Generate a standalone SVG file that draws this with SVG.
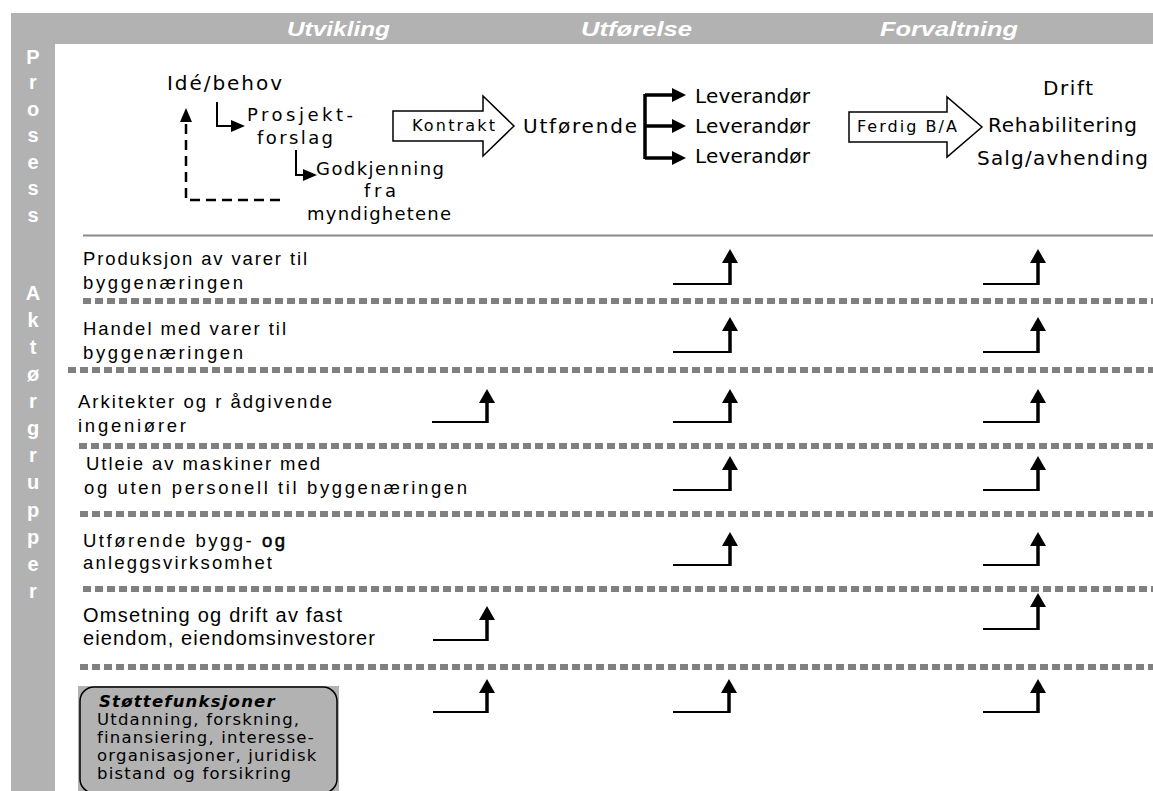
<svg xmlns="http://www.w3.org/2000/svg" width="1153" height="791" viewBox="0 0 1153 791">
<style>
.band{fill:#b2b2b2}
.hdr{font-family:"Liberation Sans",Arial,sans-serif;font-weight:bold;font-style:italic;font-size:21px;fill:#fff}
.side{font-family:"Liberation Sans",Arial,sans-serif;font-weight:bold;font-size:20px;fill:#fff;text-anchor:middle}
.proc{font-family:"DejaVu Sans",Verdana,sans-serif;font-size:20px;fill:#000}
.proc2{font-family:"DejaVu Sans",Verdana,sans-serif;font-size:18px;fill:#000}
.small{font-family:"DejaVu Sans",Verdana,sans-serif;font-size:16px;fill:#000}
.row{font-family:"Liberation Sans",Arial,sans-serif;font-size:18.5px;fill:#000}
.row2{font-family:"Liberation Sans",Arial,sans-serif;font-size:20px;fill:#000}
.box{font-family:"DejaVu Sans",Verdana,sans-serif;font-size:16.5px;fill:#000;letter-spacing:1.2px}
.dots{stroke:#808080;stroke-width:6;stroke-dasharray:8 4;fill:none}
.thin{stroke:#000;stroke-width:2;fill:none}
.thick{stroke:#000;stroke-width:3.5;fill:none}
.block{fill:#fff;stroke:#000;stroke-width:1.5}
.head{fill:#000}
</style>
<rect width="1153" height="791" fill="#fff"/>
<g id="frame">
<rect class="band" x="11" y="13" width="1142" height="31"/>
<rect class="band" x="11" y="13" width="44" height="778"/>
<text class="hdr" x="287" y="36" textLength="103" lengthAdjust="spacingAndGlyphs">Utvikling</text>
<text class="hdr" x="581" y="36" textLength="111" lengthAdjust="spacingAndGlyphs">Utførelse</text>
<text class="hdr" x="880" y="36" textLength="138" lengthAdjust="spacingAndGlyphs">Forvaltning</text>
<text class="side" x="33" y="64">P</text>
<text class="side" x="33" y="89">r</text>
<text class="side" x="33" y="116">o</text>
<text class="side" x="33" y="142">s</text>
<text class="side" x="33" y="169">e</text>
<text class="side" x="33" y="195">s</text>
<text class="side" x="33" y="222">s</text>
<text class="side" x="33" y="300">A</text>
<text class="side" x="33" y="327">k</text>
<text class="side" x="33" y="354">t</text>
<text class="side" x="33" y="381">ø</text>
<text class="side" x="33" y="408">r</text>
<text class="side" x="33" y="435">g</text>
<text class="side" x="33" y="462">r</text>
<text class="side" x="33" y="489">u</text>
<text class="side" x="33" y="517">p</text>
<text class="side" x="33" y="544">p</text>
<text class="side" x="33" y="571">e</text>
<text class="side" x="33" y="598">r</text>
</g>
<g id="separators">
<line x1="83" y1="235.5" x2="1153" y2="235.5" stroke="#8a8a8a" stroke-width="2"/>
<line class="dots" x1="83" y1="301" x2="1153" y2="301"/>
<line class="dots" x1="68" y1="370" x2="1153" y2="370"/>
<line class="dots" x1="79" y1="446" x2="1153" y2="446"/>
<line class="dots" x1="80" y1="514" x2="1153" y2="514"/>
<line class="dots" x1="83" y1="589" x2="1153" y2="589"/>
<line class="dots" x1="80" y1="667" x2="1153" y2="667"/>
</g>
<g id="n-idebehov"><text class="proc" x="167" y="90" textLength="115" lengthAdjust="spacing">Idé/behov</text></g>
<g id="n-prosjekt"><text class="proc2" x="247" y="121" textLength="106" lengthAdjust="spacing">Prosjekt-</text><text class="proc2" x="257" y="144" textLength="76" lengthAdjust="spacing">forslag</text></g>
<g id="n-godkjenning"><text class="proc2" x="316" y="175" textLength="128" lengthAdjust="spacing">Godkjenning</text><text class="proc2" x="364" y="197" textLength="32" lengthAdjust="spacing">fra</text><text class="proc2" x="307" y="220" textLength="144" lengthAdjust="spacing">myndighetene</text></g>
<g id="n-kontrakt"><polygon class="block" points="393,111 483,111 483,96 514,126 483,156 483,141 393,141"/><text class="small" x="412" y="131" textLength="83" lengthAdjust="spacing">Kontrakt</text></g>
<g id="n-utforende"><text class="proc" x="523" y="133" textLength="114" lengthAdjust="spacing">Utførende</text></g>
<g id="n-leverandor"><text class="proc" x="695" y="103" textLength="115" lengthAdjust="spacing">Leverandør</text><text class="proc" x="695" y="133" textLength="115" lengthAdjust="spacing">Leverandør</text><text class="proc" x="695" y="163" textLength="115" lengthAdjust="spacing">Leverandør</text></g>
<g id="n-ferdig"><polygon class="block" points="849,112 947,112 947,97 982,127 947,157 947,142 849,142"/><text class="small" x="857" y="132" textLength="100" lengthAdjust="spacing">Ferdig B/A</text></g>
<g id="n-forvaltning"><text class="proc" x="1043" y="95" textLength="50" lengthAdjust="spacing">Drift</text><text class="proc" x="988" y="132" textLength="149" lengthAdjust="spacing">Rehabilitering</text><text class="proc" x="977" y="165" textLength="171" lengthAdjust="spacing">Salg/avhending</text></g>
<g id="r-produksjon"><text class="row" x="83" y="265" textLength="224" lengthAdjust="spacing">Produksjon av varer til</text><text class="row" x="83" y="289" textLength="160" lengthAdjust="spacing">byggenæringen</text></g>
<g id="r-handel"><text class="row" x="83" y="335" textLength="203" lengthAdjust="spacing">Handel med varer til</text><text class="row" x="83" y="359" textLength="160" lengthAdjust="spacing">byggenæringen</text></g>
<g id="r-arkitekter"><text class="row" x="78" y="408" textLength="254" lengthAdjust="spacing">Arkitekter og r ådgivende</text><text class="row" x="78" y="432" textLength="108" lengthAdjust="spacing">ingeniører</text></g>
<g id="r-utleie"><text class="row" x="86" y="470" textLength="234" lengthAdjust="spacing">Utleie av maskiner med</text><text class="row" x="84" y="494" textLength="383" lengthAdjust="spacing">og uten personell til byggenæringen</text></g>
<g id="r-utforende"><text class="row" x="83" y="547" textLength="202" lengthAdjust="spacing">Utførende bygg- <tspan stroke="#000" stroke-width="0.5">og</tspan></text><text class="row" x="83" y="569" textLength="189" lengthAdjust="spacing">anleggsvirksomhet</text></g>
<g id="r-omsetning"><text class="row2" x="83" y="622" textLength="259" lengthAdjust="spacing">Omsetning og drift av fast</text><text class="row2" x="83" y="645" textLength="292" lengthAdjust="spacing">eiendom, eiendomsinvestorer</text></g>
<g id="r-stotte">
<rect x="78" y="686" width="261" height="105" fill="#b2b2b2"/>
<rect x="80" y="687" width="257" height="106" rx="14" fill="none" stroke="#000" stroke-width="1.5"/>
<text class="box" x="99" y="707" font-weight="bold" font-style="italic" letter-spacing="0.3">Støttefunksjoner</text>
<text class="box" x="97" y="725">Utdanning, forskning,</text>
<text class="box" x="97" y="743">finansiering, interesse-</text>
<text class="box" x="97" y="761">organisasjoner, juridisk</text>
<text class="box" x="97" y="779">bistand og forsikring</text>
</g>
<g id="connectors">
<path class="thin" d="M217 102 V126 H232"/><polygon class="head" points="231,120 245,126 231,132"/>
<path class="thin" d="M296 150 V175 H304"/><polygon class="head" points="303,169 317,175 303,181"/>
<path d="M280 200 H186 V120" fill="none" stroke="#000" stroke-width="2.5" stroke-dasharray="10 6"/><polygon class="head" points="180,122 186,108 192,122"/>
<path class="thick" d="M645 94 V159 M645 95 H673 M645 126 H673 M645 158 H673"/>
<polygon class="head" points="672,88 686,95 672,102"/><polygon class="head" points="672,119 686,126 672,133"/><polygon class="head" points="672,151 686,158 672,165"/>
<g id="up-arrows">
<path class="thin" d="M673 284 H730"/><path class="thick" d="M730 285 V262"/><polygon class="head" points="722,263 730,249 738,263"/>
<path class="thin" d="M983 284 H1038"/><path class="thick" d="M1038 285 V262"/><polygon class="head" points="1030,263 1038,249 1046,263"/>
<path class="thin" d="M673 352 H730"/><path class="thick" d="M730 353 V330"/><polygon class="head" points="722,331 730,317 738,331"/>
<path class="thin" d="M983 352 H1038"/><path class="thick" d="M1038 353 V330"/><polygon class="head" points="1030,331 1038,317 1046,331"/>
<path class="thin" d="M432 422 H487"/><path class="thick" d="M487 423 V402"/><polygon class="head" points="479,403 487,389 495,403"/>
<path class="thin" d="M673 422 H730"/><path class="thick" d="M730 423 V402"/><polygon class="head" points="722,403 730,389 738,403"/>
<path class="thin" d="M983 422 H1038"/><path class="thick" d="M1038 423 V402"/><polygon class="head" points="1030,403 1038,389 1046,403"/>
<path class="thin" d="M673 490 H730"/><path class="thick" d="M730 491 V469"/><polygon class="head" points="722,470 730,456 738,470"/>
<path class="thin" d="M983 490 H1038"/><path class="thick" d="M1038 491 V469"/><polygon class="head" points="1030,470 1038,456 1046,470"/>
<path class="thin" d="M673 565 H730"/><path class="thick" d="M730 566 V545"/><polygon class="head" points="722,546 730,532 738,546"/>
<path class="thin" d="M983 565 H1038"/><path class="thick" d="M1038 566 V545"/><polygon class="head" points="1030,546 1038,532 1046,546"/>
<path class="thin" d="M433 640 H487"/><path class="thick" d="M487 641 V619"/><polygon class="head" points="479,620 487,606 495,620"/>
<path class="thin" d="M983 629 H1038"/><path class="thick" d="M1038 630 V606"/><polygon class="head" points="1030,607 1038,593 1046,607"/>
<path class="thin" d="M433 712 H487"/><path class="thick" d="M487 713 V692"/><polygon class="head" points="479,693 487,679 495,693"/>
<path class="thin" d="M673 712 H729"/><path class="thick" d="M729 713 V692"/><polygon class="head" points="721,693 729,679 737,693"/>
<path class="thin" d="M983 712 H1038"/><path class="thick" d="M1038 713 V692"/><polygon class="head" points="1030,693 1038,679 1046,693"/>
</g>
</g>
</svg>
